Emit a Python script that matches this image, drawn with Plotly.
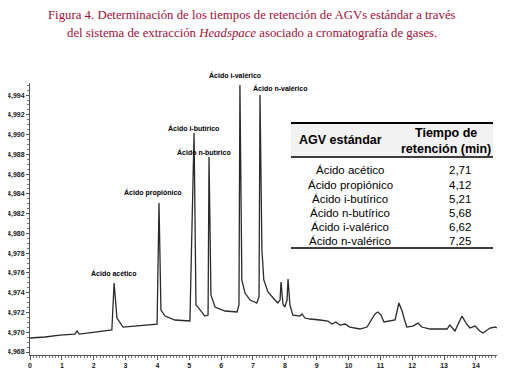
import plotly.graph_objects as go

# Chromatogram trace (retention time in min, detector response)
time_min = [0.00, 0.47, 0.94, 1.41, 1.48, 1.54, 2.04, 2.57, 2.64, 2.73, 2.92, 3.30, 3.77, 3.99,
            4.05, 4.11, 4.24, 4.55, 5.02, 5.15, 5.21, 5.27, 5.49, 5.59, 5.62, 5.68, 5.81, 6.12,
            6.50, 6.56, 6.59, 6.65, 6.75, 6.91, 7.12, 7.19, 7.22, 7.28, 7.34, 7.47, 7.69, 7.78,
            7.85, 7.88, 7.94, 8.00, 8.07, 8.10, 8.16, 8.25, 8.47, 8.54, 8.63, 8.79, 9.10, 9.35,
            9.48, 9.60, 9.73, 9.89, 10.04, 10.36, 10.58, 10.73, 10.83, 10.92, 11.02, 11.11,
            11.30, 11.46, 11.58, 11.68, 11.74, 11.83, 12.02, 12.18, 12.30, 12.56, 12.87, 13.09,
            13.18, 13.34, 13.56, 13.69, 13.81, 13.97, 14.12, 14.22, 14.44, 14.60, 14.66]
response = [4.96942, 4.96952, 4.96972, 4.96982, 4.97013, 4.96982, 4.97002, 4.97023, 4.97498,
            4.97144, 4.97053, 4.97063, 4.97073, 4.97083, 4.98308, 4.97225, 4.97164, 4.97124,
            4.97114, 4.99016, 4.97276, 4.97255, 4.97164, 4.97174, 4.98773, 4.97377, 4.97255,
            4.97215, 4.97205, 4.97276, 4.99502, 4.97529, 4.97397, 4.97326, 4.97296, 4.97357,
            4.99401, 4.97832, 4.97529, 4.97407, 4.97326, 4.97296, 4.97326, 4.97508, 4.97286,
            4.97255, 4.97326, 4.97539, 4.97276, 4.97174, 4.97164, 4.97185, 4.97144, 4.97134,
            4.97124, 4.97114, 4.97083, 4.97104, 4.97073, 4.97083, 4.97053, 4.97033, 4.97053,
            4.97134, 4.97185, 4.97205, 4.97174, 4.97104, 4.97114, 4.97124, 4.97296, 4.97215,
            4.97144, 4.97053, 4.97063, 4.97093, 4.97053, 4.97033, 4.97033, 4.97033, 4.97073,
            4.97013, 4.97164, 4.97093, 4.97043, 4.97063, 4.97013, 4.96992, 4.97043, 4.97053,
            4.97043]

# Peak labels
peak_names = ["Ácido acético", "Ácido propiónico", "Ácido i-butírico",
              "Ácido n-butírico", "Ácido i-valérico", "Ácido n-valérico"]
label_x = [2.64, 3.86, 5.12, 5.46, 6.43, 7.85]
label_y = [4.97600, 4.98419, 4.99067, 4.98824, 4.99603, 4.99472]

# Table
table_header = ["AGV estándar", "Tiempo de<br>retención (min)"]
table_acids = ["Ácido acético", "Ácido propiónico", "Ácido i-butírico",
               "Ácido n-butírico", "Ácido i-valérico", "Ácido n-valérico"]
table_times = ["2,71", "4,12", "5,21", "5,68", "6,62", "7,25"]

# Axis ticks
x_ticks = list(range(0, 15))
y_ticks = [4.968, 4.970, 4.972, 4.974, 4.976, 4.978, 4.980, 4.982, 4.984, 4.986,
           4.988, 4.990, 4.992, 4.994]

title_line1 = "Figura 4. Determinación de los tiempos de retención de AGVs estándar a través"
title_line2 = "del sistema de extracción <i>Headspace</i> asociado a cromatografía de gases."

# page body has an 8px margin, so the figure is drawn offset by 8px
OFF = 8
W, H = 513, 387
L, R, T, B = 30 - OFF, 16 + OFF, 83 - OFF, 32 + OFF
pw, ph = W - L - R, H - T - B
Y_RANGE = [4.9677, 4.99522]


def px(xp):
    return (xp - OFF - L) / pw


def py(yp):
    return (H - B - (yp - OFF)) / ph


fig = go.Figure()
fig.add_trace(go.Scatter(x=time_min, y=response, mode="lines",
                         line=dict(color="#2a2a2a", width=1.3), showlegend=False,
                         hoverinfo="skip"))

annotations = []
lab_font = dict(family="Liberation Sans Narrow, Liberation Sans", size=7, color="black",
                weight="bold")
for name, lx, ly in zip(peak_names, label_x, label_y):
    # y given in data units, mapped to paper so labels above the axis range stay visible
    yp = (ly - Y_RANGE[0]) / (Y_RANGE[1] - Y_RANGE[0])
    annotations.append(dict(x=lx, y=yp, xref="x", yref="paper", text=name, showarrow=False,
                            font=lab_font, xanchor="center", yanchor="middle"))


def ptext(x, y, text, font):
    annotations.append(dict(x=px(x), y=py(y), xref="paper", yref="paper", text=text,
                            showarrow=False, font=font, xanchor="center", yanchor="middle"))


title_font = dict(family="Liberation Serif", size=12.8, color="#a0103a")
ptext(252, 15, title_line1, title_font)
ptext(252, 33, title_line2, title_font)

hdr_font = dict(family="Liberation Sans", size=12.5, color="black", weight="bold")
row_font = dict(family="Liberation Sans", size=11.5, color="black")
ptext(340, 140, table_header[0], hdr_font)
ptext(446, 141, table_header[1], hdr_font)
row_y = [170, 184.5, 199, 213, 227, 241]
for acid, t, ry in zip(table_acids, table_times, row_y):
    ptext(350, ry, acid, row_font)
    ptext(460, ry, t, row_font)

shapes = [
    dict(type="rect", xref="paper", yref="paper", x0=px(291), x1=px(493), y0=py(157), y1=py(123),
         fillcolor="#f2f2f2", line=dict(width=0), layer="below"),
    dict(type="line", xref="paper", yref="paper", x0=px(291), x1=px(493), y0=py(123), y1=py(123),
         line=dict(color="black", width=2)),
    dict(type="line", xref="paper", yref="paper", x0=px(291), x1=px(493), y0=py(157), y1=py(157),
         line=dict(color="black", width=1.5)),
    dict(type="line", xref="paper", yref="paper", x0=px(291), x1=px(493), y0=py(248), y1=py(248),
         line=dict(color="black", width=1.5)),
]

tick_font = dict(family="Liberation Sans", size=7, color="#222", weight="bold")
fig.update_layout(
    width=W, height=H, autosize=False,
    margin=dict(l=L, r=R, t=T, b=B, pad=0, autoexpand=False),
    paper_bgcolor="white", plot_bgcolor="white",
    separators=",.",
    annotations=annotations, shapes=shapes,
    xaxis=dict(range=[0, 14.66], tickvals=x_ticks, tickfont=tick_font, showgrid=False,
               zeroline=False, showline=True, linecolor="#555", linewidth=1, automargin=False,
               ticks="outside", ticklen=4, tickcolor="#555",
               minor=dict(dtick=0.1, ticks="outside", ticklen=2, tickcolor="#777")),
    yaxis=dict(range=Y_RANGE, tickvals=y_ticks, tickformat=".3f", tickfont=tick_font,
               showgrid=False, zeroline=False, showline=True, linecolor="#555", linewidth=1,
               automargin=False, ticks="outside", ticklen=3, tickcolor="#555",
               minor=dict(dtick=0.0005, ticks="outside", ticklen=2, tickcolor="#777")),
)

fig.write_html("out.html")
